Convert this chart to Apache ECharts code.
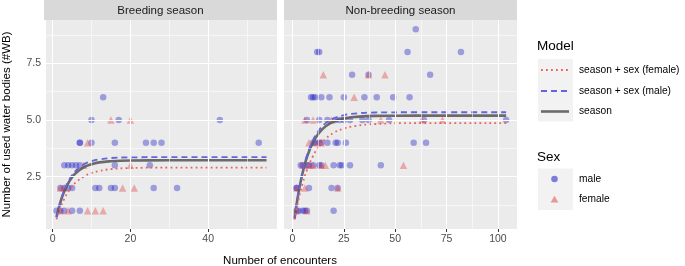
<!DOCTYPE html>
<html>
<head>
<meta charset="utf-8">
<script src="https://cdn.jsdelivr.net/npm/echarts@6/dist/echarts.min.js"></script>
<style>
  html, body { margin: 0; padding: 0; background: #fff; }
  #chart { width: 685px; height: 266px; }
</style>
</head>
<body>
<div id="chart"></div>
<script>
// ---- data ----
var panels = ['Breeding season', 'Non-breeding season'];
var yTicks = [2.5, 5, 7.5];
var yMinor = [1.25, 3.75, 6.25, 8.75];
var brTicks = [0, 20, 40];
var brMinor = [10, 30, 50];
var nbTicks = [0, 25, 50, 75, 100];
var nbMinor = [12.5, 37.5, 62.5, 87.5];

// fitted curves (read at a few x positions)
var brCurveX = [1, 2, 3, 4, 5, 6, 8, 10, 12, 15, 20, 30, 55];
var brSeason = [0.72, 1.37, 1.85, 2.20, 2.47, 2.66, 2.91, 3.05, 3.13, 3.18, 3.21, 3.22, 3.22];
var brMale   = [0.70, 1.39, 1.90, 2.28, 2.56, 2.77, 3.04, 3.18, 3.26, 3.32, 3.35, 3.36, 3.36];
var brFemale = [0.62, 1.12, 1.52, 1.82, 2.06, 2.25, 2.50, 2.66, 2.75, 2.83, 2.88, 2.90, 2.90];

var nbCurveX = [1, 3, 5, 7, 10, 13, 16, 20, 25, 30, 40, 60, 104];
var nbSeason = [0.66, 1.83, 2.70, 3.35, 4.02, 4.44, 4.71, 4.93, 5.07, 5.13, 5.18, 5.19, 5.19];
var nbMale   = [0.64, 1.86, 2.76, 3.43, 4.12, 4.56, 4.85, 5.07, 5.21, 5.28, 5.33, 5.34, 5.34];
var nbFemale = [0.60, 1.51, 2.22, 2.79, 3.41, 3.85, 4.16, 4.43, 4.62, 4.73, 4.82, 4.86, 4.86];

// observations: encounters (x) and number of water bodies (y)
var brMaleX = [1, 2, 3, 5, 7,  2, 3, 4, 5, 11, 12, 15, 16, 26, 32,  3, 4, 5, 6, 7, 16, 25,  7, 7, 10, 16, 24, 26, 28, 53,  10, 17, 43,  13];
var brMaleY = [1, 1, 1, 1, 1,  2, 2, 2, 2, 2, 2, 2, 2, 2, 2,  3, 3, 3, 3, 3, 3, 3,  4, 4, 4, 4, 4, 4, 4, 4,  5, 5, 5,  6];
var brFemaleX = [2, 4, 9, 11, 13,  2, 3, 18, 21,  8, 20,  9,  15, 20];
var brFemaleY = [1, 1, 1, 1, 1,  2, 2, 2, 2,  3, 3,  4,  5, 5];

var nbMaleX = [2, 3, 5, 6, 7, 20,
  2, 2, 8, 19, 22,
  4, 5, 7, 8, 10, 13, 14, 20, 23, 24, 28, 43,
  10, 11, 13, 14, 17, 21, 22, 26, 59, 65,
  7, 13, 17, 21, 23, 25, 28, 34, 37, 47, 64, 104,
  9, 10, 11, 14, 18, 25, 35, 41, 49, 57,
  29, 37, 67,
  12, 13, 56, 82,
  60];
var nbMaleY = [1, 1, 1, 1, 1, 1,
  2, 2, 2, 2, 2,
  3, 3, 3, 3, 3, 3, 3, 3, 3, 3, 3, 3,
  4, 4, 4, 4, 4, 4, 4, 4, 4, 4,
  5, 5, 5, 5, 5, 5, 5, 5, 5, 5, 5, 5,
  6, 6, 6, 6, 6, 6, 6, 6, 6, 6,
  7, 7, 7,
  8, 8, 8, 8,
  9];
var nbFemaleX = [2, 7,  2, 6, 22,  5, 8, 10, 14, 16, 54,  8, 12, 14,  6, 10, 19, 43, 63, 73,  30,  15, 37, 45];
var nbFemaleY = [1, 1,  2, 2, 2,  3, 3, 3, 3, 3, 3,  4, 4, 4,  5, 5, 5, 5, 5, 5,  6,  7, 7, 7];

// ---- styling ----
var maleColor = '#1c1cc8';
var femaleColor = '#e03c3c';
var seasonColor = '#5c5c5c';
var maleLine = '#6464dc';
var femaleLine = '#e8625c';
var font = 'Liberation Sans, Arial, sans-serif';

function pairs(xs, ys) {
  return xs.map(function (x, i) { return [x, ys[i]]; });
}

function gridLines(xMajor, xMinor) {
  var d = [];
  yMinor.forEach(function (v) { d.push({ yAxis: v, lineStyle: { width: 0.55 } }); });
  xMinor.forEach(function (v) { d.push({ xAxis: v, lineStyle: { width: 0.55 } }); });
  yTicks.forEach(function (v) { d.push({ yAxis: v, lineStyle: { width: 1.1 } }); });
  xMajor.forEach(function (v) { d.push({ xAxis: v, lineStyle: { width: 1.1 } }); });
  return d;
}

function panelSeries(idx, xMajor, xMinor, curveX, season, male, female, mX, mY, fX, fY) {
  return [
    {
      type: 'line', xAxisIndex: idx, yAxisIndex: idx, data: [], silent: true, z: 0,
      markLine: {
        silent: true, symbol: 'none', animation: false,
        label: { show: false },
        lineStyle: { color: '#ffffff', type: 'solid', opacity: 1 },
        data: gridLines(xMajor, xMinor)
      }
    },
    {
      type: 'scatter', xAxisIndex: idx, yAxisIndex: idx, z: 2,
      symbol: 'circle', symbolSize: 6.5,
      itemStyle: { color: maleColor, opacity: 0.38 },
      data: pairs(mX, mY)
    },
    {
      type: 'scatter', xAxisIndex: idx, yAxisIndex: idx, z: 2,
      symbol: 'triangle', symbolSize: 7.5,
      itemStyle: { color: femaleColor, opacity: 0.38 },
      data: pairs(fX, fY)
    },
    {
      type: 'line', xAxisIndex: idx, yAxisIndex: idx, z: 3, smooth: true, showSymbol: false,
      lineStyle: { color: seasonColor, width: 2.6, opacity: 0.9 },
      data: pairs(curveX, season)
    },
    {
      type: 'line', xAxisIndex: idx, yAxisIndex: idx, z: 4, smooth: true, showSymbol: false,
      lineStyle: { color: maleLine, width: 1.8, type: [6, 4] },
      data: pairs(curveX, male)
    },
    {
      type: 'line', xAxisIndex: idx, yAxisIndex: idx, z: 4, smooth: true, showSymbol: false,
      lineStyle: { color: femaleLine, width: 1.8, type: [1.8, 3.2] },
      data: pairs(curveX, female)
    }
  ];
}

function xAxisOf(idx, min, max, ticks) {
  return {
    type: 'value', gridIndex: idx, min: min, max: max,
    splitLine: { show: false },
    axisLine: { show: false },
    axisTick: { show: true, length: 3, customValues: ticks, lineStyle: { color: '#333333' } },
    axisLabel: { customValues: ticks, margin: 5, fontSize: 10.5, color: '#4d4d4d', fontFamily: font }
  };
}

function yAxisOf(idx, showLabels) {
  return {
    type: 'value', gridIndex: idx, min: 0.19, max: 9.41,
    splitLine: { show: false },
    axisLine: { show: false },
    axisTick: { show: showLabels, length: 3, customValues: yTicks, lineStyle: { color: '#333333' } },
    axisLabel: {
      show: showLabels, customValues: yTicks, margin: 5, fontSize: 10.5, color: '#4d4d4d', fontFamily: font,
      formatter: function (v) { return v.toFixed(1); }
    },
    name: showLabels ? 'Number of used water bodies (#WB)' : '',
    nameLocation: 'middle', nameRotate: 90, nameGap: 33,
    nameTextStyle: { fontSize: 11.5, color: '#000', fontFamily: font }
  };
}

var chart = echarts.init(document.getElementById('chart'));

var series = panelSeries(0, brTicks, brMinor, brCurveX, brSeason, brMale, brFemale,
  brMaleX, brMaleY, brFemaleX, brFemaleY)
  .concat(panelSeries(1, nbTicks, nbMinor, nbCurveX, nbSeason, nbMale, nbFemale,
  nbMaleX, nbMaleY, nbFemaleX, nbFemaleY));

var legendText = { fontSize: 10.2, fill: '#000', fontFamily: font, verticalAlign: 'middle' };

chart.setOption({
  animation: false,
  grid: [
    { left: 44, top: 20, width: 233, height: 209, show: true, backgroundColor: '#ebebeb', borderWidth: 0 },
    { left: 284, top: 20, width: 233, height: 209, show: true, backgroundColor: '#ebebeb', borderWidth: 0 }
  ],
  xAxis: [xAxisOf(0, -1.7, 57.7, brTicks), xAxisOf(1, -4.15, 109.3, nbTicks)],
  yAxis: [yAxisOf(0, true), yAxisOf(1, false)],
  series: series,
  graphic: [
    // facet strips
    { type: 'rect', left: 44, top: 0, shape: { width: 233, height: 20 }, style: { fill: '#d9d9d9' } },
    { type: 'rect', left: 284, top: 0, shape: { width: 233, height: 20 }, style: { fill: '#d9d9d9' } },
    { type: 'text', x: 160.5, y: 10.5, style: { text: panels[0], fontSize: 11.5, fill: '#1a1a1a', fontFamily: font, align: 'center', verticalAlign: 'middle' } },
    { type: 'text', x: 400.5, y: 10.5, style: { text: panels[1], fontSize: 11.5, fill: '#1a1a1a', fontFamily: font, align: 'center', verticalAlign: 'middle' } },
    // x axis title
    { type: 'text', x: 280, y: 261, style: { text: 'Number of encounters', fontSize: 11.5, fill: '#000', fontFamily: font, align: 'center', verticalAlign: 'middle' } },
    // legend: Model
    { type: 'text', x: 537, y: 46, style: { text: 'Model', fontSize: 13.5, fill: '#000', fontFamily: font, verticalAlign: 'middle' } },
    { type: 'rect', shape: { x: 538, y: 59, width: 35, height: 62.5 }, style: { fill: '#f2f2f2' } },
    { type: 'line', shape: { x1: 541, y1: 70, x2: 569, y2: 70 }, style: { stroke: femaleLine, lineWidth: 1.8, lineDash: [1.8, 3.2] } },
    { type: 'line', shape: { x1: 541, y1: 91, x2: 569, y2: 91 }, style: { stroke: maleLine, lineWidth: 1.8, lineDash: [6, 4] } },
    { type: 'line', shape: { x1: 541, y1: 111.5, x2: 569, y2: 111.5 }, style: { stroke: seasonColor, lineWidth: 2.6, opacity: 0.9 } },
    { type: 'text', x: 579, y: 70, style: Object.assign({ text: 'season + sex (female)' }, legendText) },
    { type: 'text', x: 579, y: 91, style: Object.assign({ text: 'season + sex (male)' }, legendText) },
    { type: 'text', x: 579, y: 111.5, style: Object.assign({ text: 'season' }, legendText) },
    // legend: Sex
    { type: 'text', x: 537, y: 157, style: { text: 'Sex', fontSize: 13.5, fill: '#000', fontFamily: font, verticalAlign: 'middle' } },
    { type: 'rect', shape: { x: 538, y: 168.5, width: 35, height: 41.5 }, style: { fill: '#f2f2f2' } },
    { type: 'circle', shape: { cx: 554.5, cy: 179, r: 3.3 }, style: { fill: maleColor, opacity: 0.55 } },
    { type: 'polygon', shape: { points: [[554.5, 195.8], [550.6, 202.6], [558.4, 202.6]] }, style: { fill: femaleColor, opacity: 0.5 } },
    { type: 'text', x: 579, y: 179, style: Object.assign({ text: 'male' }, legendText) },
    { type: 'text', x: 579, y: 199.5, style: Object.assign({ text: 'female' }, legendText) }
  ]
});
</script>
</body>
</html>
